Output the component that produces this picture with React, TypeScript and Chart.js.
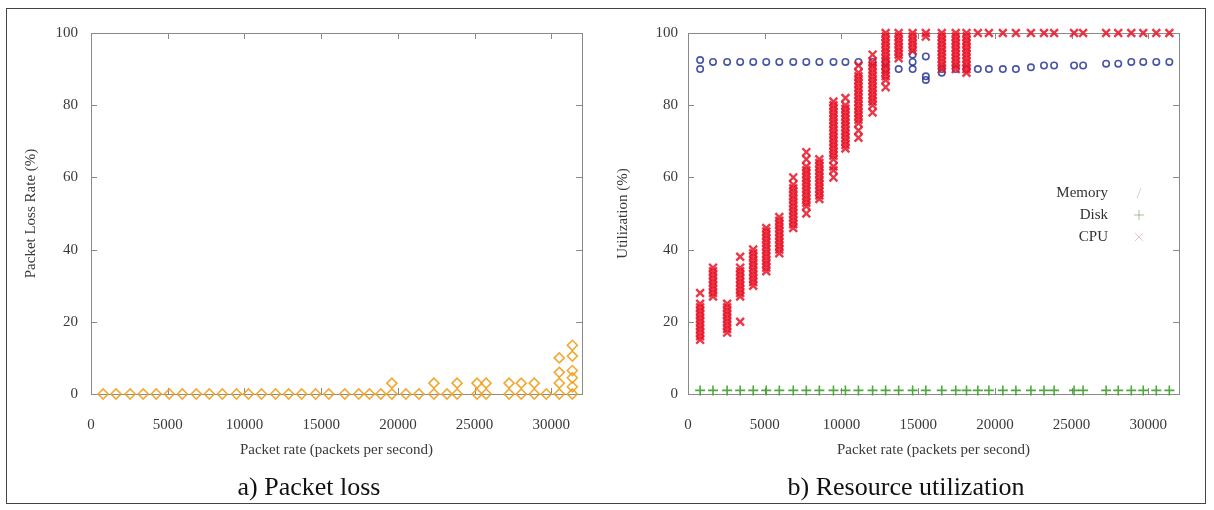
import React, { useEffect, useRef } from "react";
import { Chart, registerables } from "chart.js";

Chart.register(...registerables);

// ---- data ----
const packetRates = [790, 1630, 2550, 3400, 4250, 5100, 5950, 6860, 7710, 8560, 9480, 10260, 11110, 12030, 12880, 13730, 14640, 15500, 16540, 17450, 18150, 18890, 19610, 20520, 21370, 22350, 23200, 23860, 25160, 25750, 27250, 28040, 28890, 29670, 30520, 31370];

const lossRate: number[][] = [
  [0], [0], [0], [0], [0], [0], [0], [0], [0], [0], [0], [0], [0], [0], [0], [0], [0], [0], [0], [0], [0], [0],
  [0, 3], [0], [0], [0, 3], [0], [0, 3], [0, 3], [0, 3], [0, 3], [0, 3], [0, 3], [0],
  [0, 3, 6, 10], [0, 2, 4.5, 6.5, 10.5, 13.5],
];

const memoryUtil: number[][] = [
  [92.5, 90], [92], [92], [92], [92], [92], [92], [92], [92], [92], [92], [92], [92], [92],
  [92, 90], [90], [94, 92, 90], [93.5, 88, 87], [90, 89], [90], [90], [90], [90], [90], [90],
  [90.5], [91], [91], [91], [91], [91.5], [91.5], [92], [92], [92], [92],
];

const diskUtil: number[][] = [
  [1], [1], [1], [1], [1], [1], [1], [1], [1], [1], [1], [1], [1], [1], [1], [1], [1], [1],
  [1], [1], [1], [1], [1], [1], [1], [1], [1], [1], [1], [1], [1], [1], [1], [1], [1], [1],
];

const cpuUtil: number[][] = [
  [15, 16, 17, 18, 19, 20, 21, 22, 23, 24, 25, 28],
  [27, 28, 29, 30, 31, 32, 33, 34, 35],
  [17, 18, 19, 20, 21, 22, 23, 24, 25],
  [20, 27, 28, 29, 30, 31, 32, 33, 34, 35, 38],
  [30, 31, 32, 33, 34, 35, 36, 37, 38, 39, 40],
  [34, 35, 36, 37, 38, 39, 40, 41, 42, 43, 44, 45, 46],
  [39, 40, 41, 42, 43, 44, 45, 46, 47, 48, 49],
  [46, 47, 48, 49, 50, 51, 52, 53, 54, 55, 56, 57, 58, 60],
  [50, 52, 53, 54, 55, 56, 57, 58, 59, 60, 61, 62, 63, 65, 67],
  [54, 55, 56, 57, 58, 59, 60, 61, 62, 63, 64, 65],
  [60, 62, 63, 65, 66, 67, 68, 69, 70, 71, 72, 73, 74, 75, 76, 77, 78, 79, 80, 81],
  [68, 69, 70, 71, 72, 73, 74, 75, 76, 77, 78, 79, 80, 82],
  [71, 73, 75, 76, 77, 78, 79, 80, 81, 82, 83, 84, 85, 86, 87, 88, 89, 91],
  [78, 80, 81, 82, 83, 84, 85, 86, 87, 88, 89, 90, 91, 92, 94],
  [85, 87, 88, 89, 90, 91, 92, 93, 94, 95, 96, 97, 98, 99, 100],
  [93, 94, 95, 96, 97, 98, 99, 100],
  [95, 96, 97, 98, 99, 100],
  [99, 100],
  [90, 91, 92, 93, 94, 95, 96, 97, 98, 99, 100],
  [90, 91, 92, 93, 94, 95, 96, 97, 98, 99, 100],
  [89, 90, 91, 92, 93, 94, 95, 96, 97, 98, 99, 100],
  [100], [100], [100], [100], [100], [100], [100], [100], [100], [100], [100], [100], [100], [100], [100],
];

const xTickValues = [0, 5000, 10000, 15000, 20000, 25000, 30000];
const yTickValues = [0, 20, 40, 60, 80, 100];
const xMax = 32000;
const yMax = 100;

const legendLabels = ["Memory", "Disk", "CPU"];

const FONT = "'Liberation Serif', 'DejaVu Serif', serif";

function toPoints(values: number[][]) {
  const pts: { x: number; y: number }[] = [];
  values.forEach((ys, i) => ys.forEach((y) => pts.push({ x: packetRates[i], y })));
  return pts;
}

const framePlugin = {
  id: "gnuFrame",
  beforeDatasetsDraw(chart: any) {
    const { ctx, chartArea } = chart;
    const { left, right, top, bottom } = chartArea;
    ctx.save();
    ctx.strokeStyle = "#8a8a8a";
    ctx.lineWidth = 1;
    ctx.strokeRect(Math.round(left) + 0.5, Math.round(top) + 0.5, Math.round(right - left), Math.round(bottom - top));
    const tl = 6;
    ctx.beginPath();
    chart.scales.x.ticks.forEach((t: any) => {
      const px = Math.round(chart.scales.x.getPixelForValue(t.value)) + 0.5;
      ctx.moveTo(px, bottom);
      ctx.lineTo(px, bottom - tl);
      ctx.moveTo(px, top);
      ctx.lineTo(px, top + tl);
    });
    chart.scales.y.ticks.forEach((t: any) => {
      const py = Math.round(chart.scales.y.getPixelForValue(t.value)) + 0.5;
      ctx.moveTo(left, py);
      ctx.lineTo(left + tl, py);
      ctx.moveTo(right, py);
      ctx.lineTo(right - tl, py);
    });
    ctx.stroke();
    ctx.restore();
  },
};

const legendPlugin = {
  id: "gnuLegend",
  afterDraw(chart: any, _args: any, opts: any) {
    if (!opts || !opts.show) return;
    const { ctx } = chart;
    ctx.save();
    ctx.font = `15px ${FONT}`;
    ctx.fillStyle = "#333";
    ctx.textAlign = "right";
    ctx.textBaseline = "middle";
    const tx = opts.textX;
    const sx = opts.symbolX;
    legendLabels.forEach((lab, i) => {
      const y = opts.y0 + i * opts.dy;
      ctx.fillText(lab, tx, y);
      ctx.lineWidth = 1;
      ctx.beginPath();
      if (i === 0) {
        ctx.strokeStyle = "rgba(120,130,170,0.35)";
        ctx.moveTo(sx - 2, y + 5);
        ctx.lineTo(sx + 2, y - 5);
      } else if (i === 1) {
        ctx.strokeStyle = "rgba(110,150,100,0.6)";
        ctx.moveTo(sx - 5, y);
        ctx.lineTo(sx + 5, y);
        ctx.moveTo(sx, y - 5);
        ctx.lineTo(sx, y + 5);
      } else {
        ctx.strokeStyle = "rgba(220,120,130,0.45)";
        ctx.moveTo(sx - 4, y - 4);
        ctx.lineTo(sx + 4, y + 4);
        ctx.moveTo(sx + 4, y - 4);
        ctx.lineTo(sx - 4, y + 4);
      }
      ctx.stroke();
    });
    ctx.restore();
  },
};

function makeScales(yTitle: string, yTitlePad: number, yTickPad: number) {
  return {
    x: {
      type: "linear",
      min: 0,
      max: xMax,
      grid: { display: false },
      border: { display: false },
      afterBuildTicks: (s: any) => {
        s.ticks = xTickValues.map((v) => ({ value: v }));
      },
      ticks: {
        autoSkip: false,
        padding: 14,
        color: "#3a3a3a",
        font: { family: FONT, size: 15 },
        maxRotation: 0,
        callback: (v: any) => String(v),
      },
      title: {
        display: true,
        text: "Packet rate (packets per second)",
        color: "#3a3a3a",
        font: { family: FONT, size: 15 },
        padding: { top: 0, bottom: 14 },
      },
      afterFit: (s: any) => {
        s.height = 79;
      },
    },
    y: {
      type: "linear",
      min: 0,
      max: yMax,
      grid: { display: false },
      border: { display: false },
      afterBuildTicks: (s: any) => {
        s.ticks = yTickValues.map((v) => ({ value: v }));
      },
      ticks: {
        autoSkip: false,
        padding: yTickPad,
        color: "#3a3a3a",
        font: { family: FONT, size: 15 },
        callback: (v: any) => String(v),
      },
      title: {
        display: true,
        text: yTitle,
        color: "#3a3a3a",
        font: { family: FONT, size: 15 },
        padding: { top: yTitlePad, bottom: 0 },
      },
      afterFit: (s: any) => {
        s.width = 84;
      },
    },
  };
}

function LossChart() {
  const ref = useRef<HTMLCanvasElement>(null);
  useEffect(() => {
    const chart = new Chart(ref.current as HTMLCanvasElement, {
      type: "scatter",
      data: {
        datasets: [
          {
            label: "Packet loss",
            data: toPoints(lossRate),
            pointStyle: "rectRot",
            pointRadius: 5,
            borderWidth: 1.6,
            borderColor: "rgba(240,160,30,0.9)",
            backgroundColor: "rgba(0,0,0,0)",
            clip: false,
          } as any,
        ],
      },
      options: {
        responsive: false,
        animation: false,
        events: [],
        layout: { padding: { top: 25, right: 20, bottom: 0, left: 0 } },
        plugins: { legend: { display: false }, tooltip: { enabled: false } },
        scales: makeScales("Packet Loss Rate (%)", 15, 5) as any,
      },
      plugins: [framePlugin],
    });
    return () => chart.destroy();
  }, []);
  return <canvas ref={ref} width={595} height={465} style={{ position: "absolute", left: 7, top: 8 }} />;
}

function UtilChart() {
  const ref = useRef<HTMLCanvasElement>(null);
  useEffect(() => {
    const chart = new Chart(ref.current as HTMLCanvasElement, {
      type: "scatter",
      data: {
        datasets: [
          {
            label: "Memory",
            data: toPoints(memoryUtil),
            pointStyle: "circle",
            pointRadius: 3.2,
            borderWidth: 1.6,
            borderColor: "rgba(40,55,150,0.85)",
            backgroundColor: "rgba(0,0,0,0)",
            clip: false,
            order: 3,
          } as any,
          {
            label: "Disk",
            data: toPoints(diskUtil),
            pointStyle: "cross",
            pointRadius: 5,
            borderWidth: 1.6,
            borderColor: "rgba(60,160,40,0.9)",
            backgroundColor: "rgba(0,0,0,0)",
            clip: false,
            order: 2,
          } as any,
          {
            label: "CPU",
            data: toPoints(cpuUtil),
            pointStyle: "crossRot",
            pointRadius: 5.5,
            borderWidth: 2.4,
            borderColor: "rgba(232,20,40,0.85)",
            backgroundColor: "rgba(0,0,0,0)",
            clip: false,
            order: 1,
          } as any,
        ],
      },
      options: {
        responsive: false,
        animation: false,
        events: [],
        layout: { padding: { top: 25, right: 20, bottom: 0, left: 0 } },
        plugins: {
          legend: { display: false },
          tooltip: { enabled: false },
          gnuLegend: { show: true, textX: 504, symbolX: 535, y0: 185, dy: 22 },
        } as any,
        scales: makeScales("Utilization (%)", 10, 2) as any,
      },
      plugins: [framePlugin, legendPlugin],
    });
    return () => chart.destroy();
  }, []);
  return <canvas ref={ref} width={595} height={465} style={{ position: "absolute", left: 604, top: 8 }} />;
}

export default function App() {
  const caption: React.CSSProperties = {
    position: "absolute",
    top: 472,
    width: 400,
    textAlign: "center",
    fontFamily: FONT,
    fontSize: 26,
    lineHeight: "30px",
    color: "#111",
  };
  return (
    <div style={{ position: "fixed", left: 0, top: 0, width: 1214, height: 510, background: "#fff", overflow: "hidden" }}>
      <div
        style={{
          position: "absolute",
          left: 6,
          top: 8,
          width: 1200,
          height: 496,
          border: "1px solid #444",
          boxSizing: "border-box",
        }}
      />
      <LossChart />
      <UtilChart />
      <div style={{ ...caption, left: 109 }}>a) Packet loss</div>
      <div style={{ ...caption, left: 706 }}>b) Resource utilization</div>
    </div>
  );
}
